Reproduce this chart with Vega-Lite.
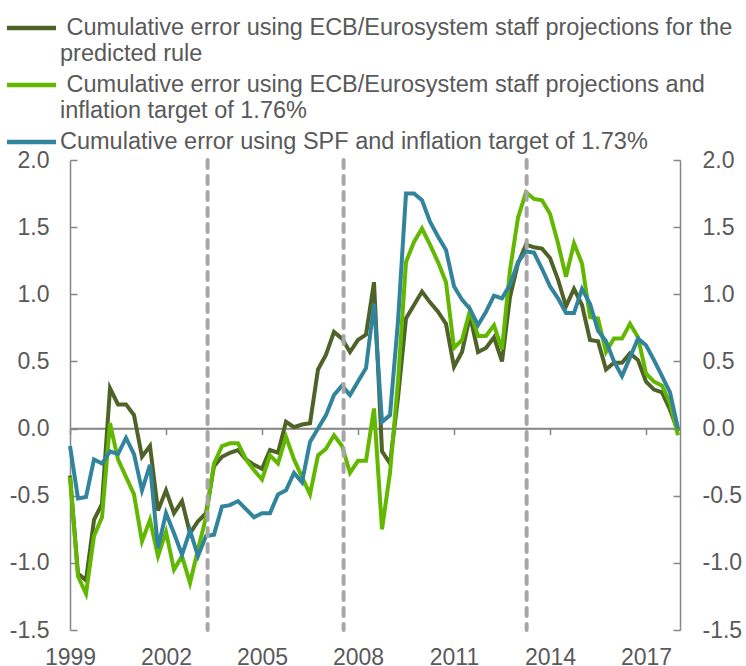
{
  "$schema": "https://vega.github.io/schema/vega-lite/v6.json",
  "width": 610,
  "height": 470,
  "autosize": "none",
  "padding": {"left": 70, "top": 160, "right": 66, "bottom": 36},
  "background": "white",
  "config": {
    "view": {"stroke": null},
    "font": "Liberation Sans",
    "axis": {
      "grid": false,
      "domainColor": "#868686",
      "domainWidth": 1.5,
      "tickColor": "#868686",
      "tickWidth": 1.5,
      "labelColor": "#595959",
      "labelFont": "Liberation Sans",
      "labelFontSize": 23,
      "title": null
    }
  },
  "datasets": {
    "series": [
      {"t": 1999.0, "a": -0.35, "b": -0.36, "c": -0.13},
      {"t": 1999.25, "a": -1.08, "b": -1.10, "c": -0.52},
      {"t": 1999.5, "a": -1.13, "b": -1.23, "c": -0.51},
      {"t": 1999.75, "a": -0.68, "b": -0.80, "c": -0.23},
      {"t": 2000.0, "a": -0.56, "b": -0.66, "c": -0.26},
      {"t": 2000.25, "a": 0.30, "b": 0.04, "c": -0.17},
      {"t": 2000.5, "a": 0.18, "b": -0.23, "c": -0.19},
      {"t": 2000.75, "a": 0.18, "b": -0.36, "c": -0.07},
      {"t": 2001.0, "a": 0.10, "b": -0.49, "c": -0.19},
      {"t": 2001.25, "a": -0.21, "b": -0.84, "c": -0.46},
      {"t": 2001.5, "a": -0.13, "b": -0.68, "c": -0.27},
      {"t": 2001.75, "a": -0.61, "b": -0.95, "c": -0.89},
      {"t": 2002.0, "a": -0.46, "b": -0.77, "c": -0.63},
      {"t": 2002.25, "a": -0.63, "b": -1.05, "c": -0.78},
      {"t": 2002.5, "a": -0.54, "b": -0.95, "c": -0.94},
      {"t": 2002.75, "a": -0.78, "b": -1.15, "c": -0.76},
      {"t": 2003.0, "a": -0.69, "b": -0.90, "c": -0.95},
      {"t": 2003.25, "a": -0.63, "b": -0.66, "c": -0.80},
      {"t": 2003.5, "a": -0.28, "b": -0.26, "c": -0.79},
      {"t": 2003.75, "a": -0.21, "b": -0.13, "c": -0.58},
      {"t": 2004.0, "a": -0.18, "b": -0.11, "c": -0.57},
      {"t": 2004.25, "a": -0.16, "b": -0.11, "c": -0.54},
      {"t": 2004.5, "a": -0.23, "b": -0.23, "c": -0.60},
      {"t": 2004.75, "a": -0.27, "b": -0.31, "c": -0.66},
      {"t": 2005.0, "a": -0.30, "b": -0.38, "c": -0.63},
      {"t": 2005.25, "a": -0.16, "b": -0.20, "c": -0.63},
      {"t": 2005.5, "a": -0.18, "b": -0.26, "c": -0.49},
      {"t": 2005.75, "a": 0.05, "b": -0.06, "c": -0.46},
      {"t": 2006.0, "a": 0.01, "b": -0.23, "c": -0.33},
      {"t": 2006.25, "a": 0.03, "b": -0.36, "c": -0.40},
      {"t": 2006.5, "a": 0.04, "b": -0.49, "c": -0.10},
      {"t": 2006.75, "a": 0.44, "b": -0.20, "c": 0.00},
      {"t": 2007.0, "a": 0.55, "b": -0.15, "c": 0.10},
      {"t": 2007.25, "a": 0.72, "b": -0.05, "c": 0.25},
      {"t": 2007.5, "a": 0.67, "b": -0.13, "c": 0.32},
      {"t": 2007.75, "a": 0.57, "b": -0.33, "c": 0.25},
      {"t": 2008.0, "a": 0.66, "b": -0.24, "c": 0.35},
      {"t": 2008.25, "a": 0.70, "b": -0.24, "c": 0.45},
      {"t": 2008.5, "a": 1.09, "b": 0.15, "c": 0.93},
      {"t": 2008.75, "a": -0.17, "b": -0.75, "c": 0.05},
      {"t": 2009.0, "a": -0.26, "b": -0.33, "c": 0.10},
      {"t": 2009.25, "a": 0.23, "b": 0.35, "c": 0.80},
      {"t": 2009.5, "a": 0.82, "b": 1.24, "c": 1.75},
      {"t": 2009.75, "a": 0.92, "b": 1.39, "c": 1.75},
      {"t": 2010.0, "a": 1.02, "b": 1.49, "c": 1.70},
      {"t": 2010.25, "a": 0.94, "b": 1.37, "c": 1.54},
      {"t": 2010.5, "a": 0.87, "b": 1.24, "c": 1.43},
      {"t": 2010.75, "a": 0.78, "b": 1.09, "c": 1.33},
      {"t": 2011.0, "a": 0.46, "b": 0.60, "c": 1.06},
      {"t": 2011.25, "a": 0.57, "b": 0.66, "c": 0.96},
      {"t": 2011.5, "a": 0.84, "b": 0.88, "c": 0.89},
      {"t": 2011.75, "a": 0.57, "b": 0.69, "c": 0.77},
      {"t": 2012.0, "a": 0.60, "b": 0.69, "c": 0.87},
      {"t": 2012.25, "a": 0.68, "b": 0.77, "c": 0.99},
      {"t": 2012.5, "a": 0.50, "b": 0.59, "c": 0.97},
      {"t": 2012.75, "a": 0.98, "b": 1.18, "c": 1.07},
      {"t": 2013.0, "a": 1.23, "b": 1.57, "c": 1.24},
      {"t": 2013.25, "a": 1.37, "b": 1.76, "c": 1.32},
      {"t": 2013.5, "a": 1.35, "b": 1.71, "c": 1.31},
      {"t": 2013.75, "a": 1.34, "b": 1.70, "c": 1.19},
      {"t": 2014.0, "a": 1.27, "b": 1.60, "c": 1.06},
      {"t": 2014.25, "a": 1.11, "b": 1.38, "c": 0.97},
      {"t": 2014.5, "a": 0.91, "b": 1.13, "c": 0.86},
      {"t": 2014.75, "a": 1.04, "b": 1.38, "c": 0.86},
      {"t": 2015.0, "a": 0.92, "b": 1.23, "c": 1.04},
      {"t": 2015.25, "a": 0.66, "b": 0.83, "c": 0.93},
      {"t": 2015.5, "a": 0.65, "b": 0.82, "c": 0.73},
      {"t": 2015.75, "a": 0.44, "b": 0.57, "c": 0.65},
      {"t": 2016.0, "a": 0.49, "b": 0.67, "c": 0.50},
      {"t": 2016.25, "a": 0.49, "b": 0.67, "c": 0.39},
      {"t": 2016.5, "a": 0.56, "b": 0.78, "c": 0.53},
      {"t": 2016.75, "a": 0.51, "b": 0.68, "c": 0.67},
      {"t": 2017.0, "a": 0.35, "b": 0.41, "c": 0.62},
      {"t": 2017.25, "a": 0.29, "b": 0.35, "c": 0.51},
      {"t": 2017.5, "a": 0.27, "b": 0.32, "c": 0.39},
      {"t": 2017.75, "a": 0.14, "b": 0.19, "c": 0.27},
      {"t": 2018.0, "a": -0.02, "b": -0.05, "c": 0.00}
    ],
    "breaks": [{"t": 2003.3}, {"t": 2007.55}, {"t": 2013.27}],
    "zero": [{"v": 0}]
  },
  "layer": [
    {
      "data": {"name": "zero"},
      "mark": {"type": "rule", "color": "#868686", "strokeWidth": 1.5},
      "encoding": {
        "y": {
          "field": "v",
          "type": "quantitative",
          "scale": {"domain": [-1.5, 2], "nice": false, "zero": false},
          "axis": {
            "orient": "right",
            "values": [-1.5, -1, -0.5, 0, 0.5, 1, 1.5, 2],
            "labelExpr": "datum.value < 0 ? '-' + format(-datum.value, '.1f') : format(datum.value, '.1f')",
            "tickSize": -7,
            "labelPadding": 29
          }
        }
      }
    },
    {
      "data": {"name": "series"},
      "transform": [{"fold": ["a", "b", "c"], "as": ["key", "value"]}],
      "mark": {"type": "line", "strokeWidth": 4},
      "encoding": {
        "x": {
          "field": "t",
          "type": "quantitative",
          "scale": {"domain": [1999, 2018.0625], "nice": false, "zero": false},
          "axis": {
            "values": [1999, 2002, 2005, 2008, 2011, 2014, 2017],
            "format": "d",
            "offset": -201.4,
            "tickSize": 6,
            "labelPadding": 212,
            "labelFlush": false,
            "zindex": 0
          }
        },
        "y": {
          "field": "value",
          "type": "quantitative",
          "scale": {"domain": [-1.5, 2], "nice": false, "zero": false},
          "axis": {
            "orient": "left",
            "values": [-1.5, -1, -0.5, 0, 0.5, 1, 1.5, 2],
            "labelExpr": "datum.value < 0 ? '-' + format(-datum.value, '.1f') : format(datum.value, '.1f')",
            "tickSize": -7,
            "labelPadding": 28
          }
        },
        "color": {
          "field": "key",
          "type": "nominal",
          "scale": {"domain": ["a", "b", "c"], "range": ["#4F6228", "#62B800", "#31849B"]},
          "legend": {
            "orient": "none",
            "legendX": -58,
            "legendY": -146.5,
            "title": null,
            "direction": "vertical",
            "padding": 0,
            "symbolType": "M-2,0H2",
            "symbolSize": 600,
            "symbolStrokeWidth": 4.5,
            "symbolOffset": 5,
            "labelFont": "Liberation Sans",
            "labelFontSize": 23.5,
            "labelColor": "#595959",
            "labelLimit": 1000,
            "labelOffset": 14,
            "rowPadding": 5,
            "labelExpr": "datum.value == 'a' ? ['\u200b Cumulative error using ECB/Eurosystem staff projections for the', 'predicted rule'] : datum.value == 'b' ? ['\u200b Cumulative error using ECB/Eurosystem staff projections and', 'inflation target of 1.76%'] : 'Cumulative error using SPF and inflation target of 1.73%'"
          }
        }
      }
    },
    {
      "data": {"name": "breaks"},
      "mark": {"type": "rule", "color": "#A6A6A6", "strokeWidth": 4, "strokeDash": [8, 8], "strokeCap": "round"},
      "encoding": {
        "x": {"field": "t", "type": "quantitative"}
      }
    }
  ],
  "resolve": {"scale": {"y": "independent"}, "axis": {"y": "independent"}}
}
